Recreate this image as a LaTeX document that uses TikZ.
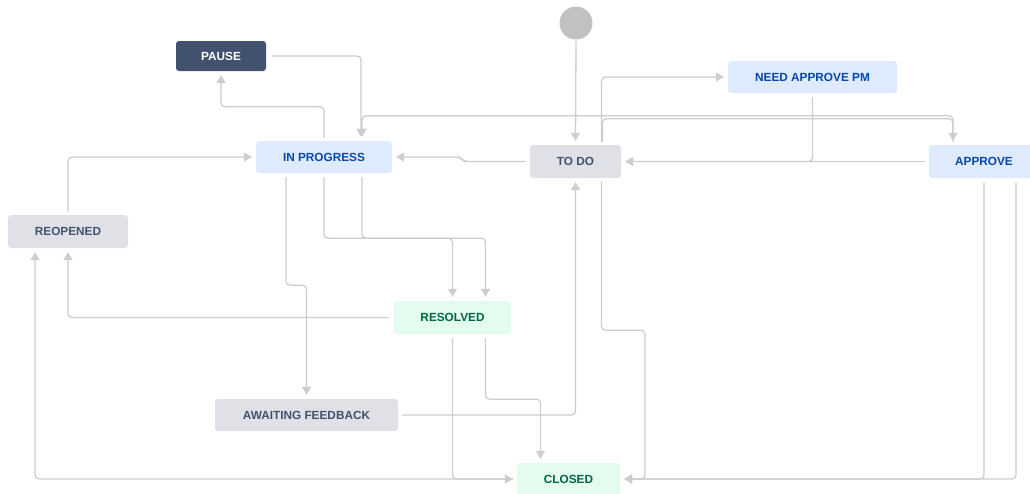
\documentclass[tikz,border=0pt]{standalone}
\usepackage{fontspec}
\setmainfont{Liberation Sans}
\usetikzlibrary{arrows.meta,calc}

\definecolor{linec}{HTML}{CDCDCD}
\definecolor{startc}{HTML}{C1C1C1}
\definecolor{pausefill}{HTML}{42526E}
\definecolor{bluefill}{HTML}{DEEBFF}
\definecolor{bluetext}{HTML}{0747A6}
\definecolor{grayfill}{HTML}{DFE1E6}
\definecolor{graytext}{HTML}{42526E}
\definecolor{greenfill}{HTML}{E3FCEF}
\definecolor{greentext}{HTML}{006644}

\tikzset{
  status/.style={rectangle, rounded corners=3pt, inner sep=0pt,
    font=\fontsize{11.8}{13}\selectfont\bfseries},
  darkstatus/.style={status, fill=pausefill, text=white},
  bluestatus/.style={status, fill=bluefill, text=bluetext},
  graystatus/.style={status, fill=grayfill, text=graytext},
  greenstatus/.style={status, fill=greenfill, text=greentext},
  link/.style={draw=linec, line width=1.3pt, rounded corners=4pt,
    -{Triangle[length=8pt,width=9pt,fill=linec]}},
}

\begin{document}
\begin{tikzpicture}[x=1pt,y=-1pt]
\useasboundingbox (0,0) rectangle (1030,493);

% workflow statuses
\node[circle, fill=startc, minimum size=33pt, inner sep=0pt] (start) at (576,23) {};
\node[darkstatus, minimum width=90pt, minimum height=30pt] (pause) at (221,56) {PAUSE};
\node[bluestatus, minimum width=136pt, minimum height=32pt] (inprog) at (324,157) {IN PROGRESS};
\node[graystatus, minimum width=91pt, minimum height=33pt] (todo) at (575.5,161.5) {TO DO};
\node[bluestatus, minimum width=169pt, minimum height=32pt] (needpm) at (812.5,77) {NEED APPROVE PM};
\node[bluestatus, minimum width=110pt, minimum height=33pt] (approve) at (984,161.5) {APPROVE};
\node[graystatus, minimum width=120pt, minimum height=33pt] (reopened) at (68,231.5) {REOPENED};
\node[greenstatus, minimum width=117pt, minimum height=33pt] (resolved) at (452.5,317.5) {RESOLVED};
\node[graystatus, minimum width=183pt, minimum height=32pt] (awaiting) at (306.5,415) {AWAITING FEEDBACK};
\node[greenstatus, minimum width=103pt, minimum height=32pt] (closed) at (568.5,479) {CLOSED};

% transitions
\draw[link] ([yshift=-1pt]start.south) -- ([yshift=4pt]todo.north);
\draw[link] ([xshift=6pt]pause.east) -| ([xshift=37pt,yshift=4pt]inprog.north);
\draw[link] ([yshift=3pt]inprog.north) -- ++(0,-31) -| ([yshift=-4pt]pause.south);
\draw[link] ([xshift=-31pt,yshift=3pt]approve.north) -- ++(0,-26) -| ([xshift=38pt,yshift=4pt]inprog.north);
\draw[link] ([xshift=27pt,yshift=3pt]todo.north) -- ++(0,-23) -| ([xshift=-31pt,yshift=4pt]approve.north);
\draw[link] ([xshift=26pt,yshift=3pt]todo.north) |- ([xshift=-4pt]needpm.west);
\draw[link] ([yshift=-4pt]needpm.south) |- ([xshift=4pt]todo.east);
\draw[link] ([xshift=-4pt]approve.west) -- ([xshift=4pt]todo.east);
\draw[link] ([xshift=-4pt]todo.west) -- ++(-62,0) -- ++(-4,-4.5) -- ([xshift=4pt]inprog.east);
\draw[link] ([yshift=3pt]reopened.north) |- ([xshift=-4pt]inprog.west);
\draw[link] ([xshift=-5pt]resolved.west) -| ([yshift=-4pt]reopened.south);
\draw[link] ([xshift=-4pt]closed.west) -| ([xshift=-33pt,yshift=-4pt]reopened.south);
\draw[link] ([yshift=-4pt]resolved.south) |- ([xshift=-4pt]closed.west);
\draw[link] ([xshift=33pt,yshift=-4pt]resolved.south) -- ++(0,61) -| ([xshift=-28pt,yshift=4pt]closed.north);
\draw[link] ([xshift=4pt]awaiting.east) -| ([yshift=-4pt]todo.south);
\draw[link] ([xshift=26pt,yshift=-3pt]todo.south) -- ++(0,149) -- ++(43.5,0) |- ([xshift=4pt]closed.east);
\draw[link] ([yshift=-4pt]approve.south) |- ([xshift=4pt]closed.east);
\draw[link] ([xshift=32pt,yshift=-4pt]approve.south) |- ([xshift=4pt]closed.east);
\draw[link] ([xshift=-38pt,yshift=-4pt]inprog.south) -- ++(0,108) -| ([yshift=4pt]awaiting.north);
\draw[link] ([yshift=-4pt]inprog.south) -- ++(0,61) -| ([yshift=4pt]resolved.north);
\draw[link] ([xshift=38pt,yshift=-4pt]inprog.south) -- ++(0,61) -| ([xshift=33pt,yshift=4pt]resolved.north);
\end{tikzpicture}
\end{document}
